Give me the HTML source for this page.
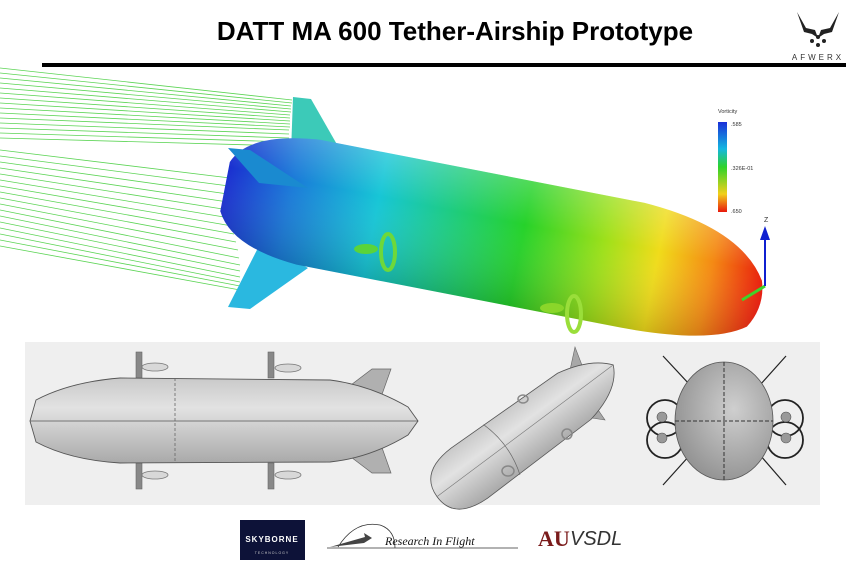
<!DOCTYPE html>
<html><head><style>
html,body{margin:0;padding:0;background:#fff;}
svg{display:block;}
</style></head><body>
<svg width="846" height="564" viewBox="0 0 846 564" xmlns="http://www.w3.org/2000/svg">
<defs>
<linearGradient id="vort" x1="0" x2="1" y1="0" y2="0">
<stop offset="0" stop-color="#1a2fd0"/>
<stop offset="0.12" stop-color="#1a7ad8"/>
<stop offset="0.28" stop-color="#17c6d6"/>
<stop offset="0.55" stop-color="#26d22a"/>
<stop offset="0.7" stop-color="#9ee01a"/>
<stop offset="0.8" stop-color="#f0dc1a"/>
<stop offset="0.9" stop-color="#f48a14"/>
<stop offset="1" stop-color="#e8180c"/>
</linearGradient>
<linearGradient id="shade" x1="0" x2="0" y1="0" y2="1">
<stop offset="0" stop-color="#fff" stop-opacity="0.2"/>
<stop offset="0.35" stop-color="#fff" stop-opacity="0"/>
<stop offset="1" stop-color="#000" stop-opacity="0.15"/>
</linearGradient>
<linearGradient id="bar" x1="0" x2="0" y1="0" y2="1">
<stop offset="0" stop-color="#1a2fd8"/><stop offset="0.3" stop-color="#14b7e0"/>
<stop offset="0.5" stop-color="#2ed32a"/><stop offset="0.8" stop-color="#f2d01a"/>
<stop offset="1" stop-color="#e8180c"/></linearGradient>
<linearGradient id="gray" x1="0" x2="0" y1="0" y2="1">
<stop offset="0" stop-color="#c9c9c9"/><stop offset="0.35" stop-color="#e2e2e2"/>
<stop offset="1" stop-color="#a9a9a9"/></linearGradient>
<radialGradient id="gr2" cx="0.6" cy="0.4" r="0.7">
<stop offset="0" stop-color="#cfcfcf"/><stop offset="1" stop-color="#8d8d8d"/></radialGradient>
</defs>

<text x="455" y="40" text-anchor="middle" font-family="Liberation Sans Narrow, Liberation Sans, sans-serif" font-weight="bold" font-size="26" fill="#000">DATT MA 600  Tether-Airship Prototype</text>
<rect x="42" y="63" width="804" height="4" fill="#000"/>

<!-- AFWERX logo -->
<g fill="#222">
<path d="M797 12 L806 28 L815 30 L818 38 L812 34 L804 32 Z"/>
<path d="M839 12 L830 28 L821 30 L818 38 L824 34 L832 32 Z"/>
<circle cx="812" cy="41" r="2"/><circle cx="824" cy="41" r="2"/><circle cx="818" cy="37" r="2"/><circle cx="818" cy="45" r="2"/>
</g>
<text x="818" y="60" text-anchor="middle" font-family="Liberation Sans, sans-serif" font-size="8" letter-spacing="3" fill="#333">AFWERX</text>

<!-- streamlines -->
<g stroke="#5cd455" stroke-width="0.8" fill="none">
<path d="M0 68 L292 100"/><path d="M0 73 L292 103"/><path d="M0 78 L291 106"/><path d="M0 83 L291 109"/>
<path d="M0 88 L291 112"/><path d="M0 93 L290 115"/><path d="M0 98 L290 118"/><path d="M0 103 L290 121"/>
<path d="M0 108 L290 124"/><path d="M0 113 L290 127"/><path d="M0 118 L289 130"/><path d="M0 123 L289 134"/>
<path d="M0 128 L289 138"/><path d="M0 133 L289 142"/><path d="M0 138 L289 146"/>
<path d="M0 150 L230 178"/><path d="M0 156 L229 186"/><path d="M0 162 L228 194"/><path d="M0 168 L228 202"/>
<path d="M0 174 L229 210"/><path d="M0 180 L230 218"/><path d="M0 186 L232 226"/><path d="M0 192 L234 234"/>
<path d="M0 198 L236 242"/><path d="M0 204 L238 250"/><path d="M0 210 L239 258"/><path d="M0 216 L240 265"/>
<path d="M0 222 L240 271"/><path d="M0 228 L240 277"/><path d="M0 234 L240 282"/><path d="M0 240 L240 286"/><path d="M0 246 L240 290"/>
</g>

<!-- fins -->
<path d="M291 153 L293 97 L311 99 L339 148 Z" fill="#3ccab8"/>
<path d="M228 307 L250 309 L308 268 L261 242 Z" fill="#2ab8e0"/>

<!-- main body -->
<g transform="translate(495,239) rotate(11)">
<path d="M-275 -25 Q-262 -58 -190 -64 L140 -64 Q240 -58 270 -10 Q278 15 264 38 Q232 62 140 63 L-190 63 Q-258 58 -275 25 Z" fill="url(#vort)"/>
<path d="M-275 -25 Q-262 -58 -190 -64 L140 -64 Q240 -58 270 -10 Q278 15 264 38 Q232 62 140 63 L-190 63 Q-258 58 -275 25 Z" fill="url(#shade)"/>
</g>
<path d="M228 148 L250 150 L308 188 L259 183 Z" fill="#1a8ad0"/>
<!-- propellers -->
<g fill="none" stroke="#6ed83a" stroke-width="4">
<ellipse cx="388" cy="252" rx="7" ry="18"/>
<ellipse cx="574" cy="314" rx="7" ry="18" stroke="#9ade3a"/>
</g>
<g fill="#5ad43a">
<ellipse cx="366" cy="249" rx="12" ry="5"/>
<ellipse cx="552" cy="308" rx="12" ry="5" fill="#8ad62a"/>
</g>
<line x1="742" y1="300" x2="765" y2="286" stroke="#3fd22a" stroke-width="3"/>
<line x1="765" y1="286" x2="765" y2="230" stroke="#1020d0" stroke-width="2"/>
<path d="M760 240 L765 226 L770 240 Z" fill="#1020d0"/>
<text x="764" y="222" font-family="Liberation Sans, sans-serif" font-size="7" fill="#333">Z</text>

<!-- legend -->
<text x="718" y="113" font-family="Liberation Sans, sans-serif" font-size="5.5" fill="#333">Vorticity</text>
<rect x="718" y="122" width="9" height="90" fill="url(#bar)"/>
<text x="731" y="126" font-family="Liberation Sans, sans-serif" font-size="5.5" fill="#333">.585</text>
<text x="731" y="170" font-family="Liberation Sans, sans-serif" font-size="5.5" fill="#333">.326E-01</text>
<text x="731" y="213" font-family="Liberation Sans, sans-serif" font-size="5.5" fill="#333">.650</text>

<!-- bottom panel -->
<rect x="25" y="342" width="795" height="163" fill="#efefef"/>
<!-- side view -->
<g fill="#888" stroke="#666" stroke-width="0.6">
<rect x="136" y="352" width="6" height="26"/><rect x="268" y="352" width="6" height="26"/>
<rect x="136" y="463" width="6" height="26"/><rect x="268" y="463" width="6" height="26"/>
</g>
<g fill="#d8d8d8" stroke="#777" stroke-width="0.8">
<ellipse cx="155" cy="367" rx="13" ry="4"/><ellipse cx="288" cy="368" rx="13" ry="4"/>
<ellipse cx="155" cy="475" rx="13" ry="4"/><ellipse cx="288" cy="475" rx="13" ry="4"/>
</g>
<path d="M343 391 L372 369 L391 369 L380 400 Z" fill="#b0b0b0" stroke="#666" stroke-width="0.7"/>
<path d="M343 451 L372 473 L391 473 L380 442 Z" fill="#b0b0b0" stroke="#666" stroke-width="0.7"/>
<path d="M30 421 L36 400 Q70 382 120 378 L330 380 Q370 385 408 407 L418 421 L408 435 Q370 458 330 462 L120 463 Q70 460 36 442 Z" fill="url(#gray)" stroke="#555" stroke-width="0.9"/>
<line x1="30" y1="421" x2="418" y2="421" stroke="#555" stroke-width="0.8"/>
<line x1="175" y1="378" x2="175" y2="463" stroke="#666" stroke-width="0.8" stroke-dasharray="3,2"/>

<!-- iso view -->
<path d="M567 384 L575 347 L585 373 Z" fill="#a8a8a8" stroke="#666" stroke-width="0.6"/>
<path d="M590 398 L605 420 L592 418 Z" fill="#a8a8a8" stroke="#666" stroke-width="0.6"/>
<g transform="translate(526,432) rotate(-36)">
<path d="M-110 0 Q-110 -30 -70 -31 L60 -29 Q95 -22 110 -3 Q100 20 60 28 L-70 31 Q-110 30 -110 0 Z" fill="url(#gray)" stroke="#555" stroke-width="0.8"/>
<path d="M-30 -31 Q-20 0 -30 31" fill="none" stroke="#666" stroke-width="0.7"/>
<line x1="-110" y1="0" x2="110" y2="-3" stroke="#777" stroke-width="0.6"/>
</g>
<g fill="none" stroke="#888" stroke-width="1.5">
<ellipse cx="523" cy="399" rx="5" ry="4"/><ellipse cx="567" cy="434" rx="5" ry="5"/><ellipse cx="508" cy="471" rx="6" ry="5"/>
</g>

<!-- front view -->
<g stroke="#222" stroke-width="1.2" fill="none">
<line x1="663" y1="356" x2="690" y2="385"/><line x1="786" y1="356" x2="760" y2="385"/>
<line x1="663" y1="485" x2="690" y2="455"/><line x1="786" y1="485" x2="760" y2="455"/>
<circle cx="665" cy="418" r="18" stroke-width="1.8"/><circle cx="665" cy="440" r="18" stroke-width="1.8"/>
<circle cx="785" cy="418" r="18" stroke-width="1.8"/><circle cx="785" cy="440" r="18" stroke-width="1.8"/>
</g>
<ellipse cx="724" cy="421" rx="49" ry="59" fill="url(#gr2)" stroke="#555" stroke-width="0.8"/>
<line x1="724" y1="362" x2="724" y2="480" stroke="#333" stroke-dasharray="4,2"/>
<line x1="675" y1="421" x2="773" y2="421" stroke="#333" stroke-dasharray="4,2"/>
<g fill="#999" stroke="#555" stroke-width="0.6">
<circle cx="662" cy="417" r="5"/><circle cx="662" cy="438" r="5"/><circle cx="786" cy="417" r="5"/><circle cx="786" cy="438" r="5"/>
</g>

<!-- logos -->
<rect x="240" y="520" width="65" height="40" fill="#0d1238"/>
<text x="272" y="542" text-anchor="middle" font-family="Liberation Sans, sans-serif" font-weight="bold" font-size="8" fill="#fff" letter-spacing="1">SKYBORNE</text>
<text x="272" y="554" text-anchor="middle" font-family="Liberation Sans, sans-serif" font-size="3.5" fill="#ccc" letter-spacing="1">TECHNOLOGY</text>
<path d="M338 547 Q355 520 380 525 Q395 530 395 548" fill="none" stroke="#333" stroke-width="0.8"/>
<path d="M330 547 L365 537 L364 533 L372 538 L364 543 Z" fill="#444"/>
<line x1="327" y1="548" x2="518" y2="548" stroke="#333" stroke-width="0.8"/>
<text x="385" y="545" font-family="Liberation Serif, serif" font-style="italic" font-size="12" fill="#111">Research In Flight</text>
<text x="538" y="546" font-family="Liberation Serif, serif" font-weight="bold" font-size="22" fill="#7a1b1b">AU</text>
<text x="570" y="545" font-family="Liberation Sans, sans-serif" font-style="italic" font-size="20" fill="#333">VSDL</text>
</svg>
</body></html>
